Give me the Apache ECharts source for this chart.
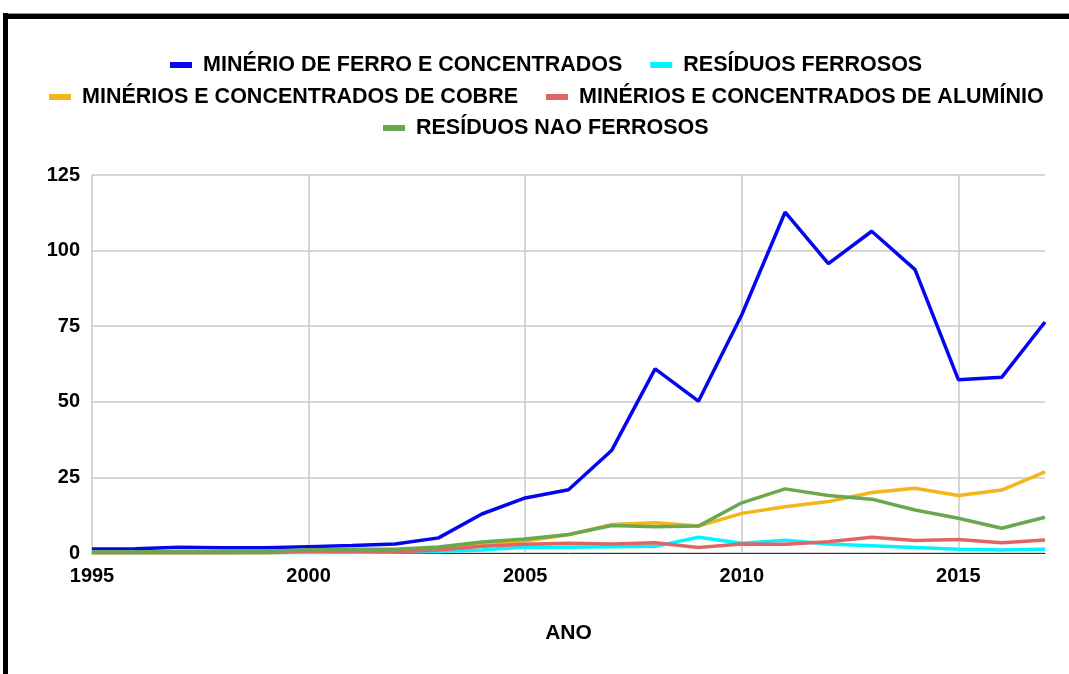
<!DOCTYPE html>
<html>
<head>
<meta charset="utf-8">
<script src="https://cdn.jsdelivr.net/npm/echarts@6/dist/echarts.min.js"></script>
<style>
  html, body { margin: 0; padding: 0; background: #fff; }
  #chart { position: absolute; left: 0; top: 0; width: 1069px; height: 674px; }
  #frameTop { position: absolute; left: 3px; top: 13px; width: 1066px; height: 6px; background: #000; border-top: 1px solid #999; box-sizing: border-box; }
  #frameLeft { position: absolute; left: 3px; top: 13px; width: 5px; height: 661px; background: #000; }
</style>
</head>
<body>
<div id="chart"></div>
<div id="frameTop"></div>
<div id="frameLeft"></div>
<script>
const years = ['1995','1996','1997','1998','1999','2000','2001','2002','2003','2004','2005','2006','2007','2008','2009','2010','2011','2012','2013','2014','2015','2016','2017'];

const seriesNames = [
  'MINÉRIO DE FERRO E CONCENTRADOS',
  'RESÍDUOS FERROSOS',
  'MINÉRIOS E CONCENTRADOS DE COBRE',
  'MINÉRIOS E CONCENTRADOS DE ALUMÍNIO',
  'RESÍDUOS NAO FERROSOS'
];

const minerioFerro = [1.3,1.4,1.9,1.7,1.7,2.1,2.5,3.0,5.0,12.9,18.2,20.9,34.0,60.9,50.2,78.8,112.7,95.7,106.4,93.7,57.3,58.1,76.4];
const residuosFerrosos = [0.1,0.1,0.1,0.1,0.1,0.2,0.2,0.3,0.5,1.0,2.0,1.9,2.1,2.2,5.2,3.2,4.2,3.0,2.4,1.8,1.2,1.0,1.2];
const cobre = [0.1,0.1,0.1,0.1,0.1,0.3,0.4,0.5,1.5,3.1,4.0,6.0,9.4,10.0,8.9,13.1,15.3,17.0,20.0,21.4,19.0,20.8,26.8];
const aluminio = [0.1,0.1,0.1,0.1,0.2,0.6,0.5,0.4,1.0,2.2,2.9,3.2,3.0,3.4,1.8,3.0,2.9,3.7,5.2,4.1,4.5,3.4,4.3];
const residuosNaoFerrosos = [0.4,0.4,0.4,0.5,0.6,1.1,1.2,1.2,2.0,3.6,4.6,6.1,9.1,8.7,8.9,16.6,21.2,19.0,17.8,14.2,11.5,8.2,11.8];

const yTicks = { min: 0, max: 125, interval: 25 };

const colors = ['#0505f0', '#00f5ff', '#f2b51a', '#e06666', '#6aa84f'];
const values = [minerioFerro, residuosFerrosos, cobre, aluminio, residuosNaoFerrosos];

const FONT = '"Liberation Sans", Arial, sans-serif';
const LEGEND_FS = 21.5;
const ITEM_W = 22, ITEM_GAP = 28, TEXT_PAD = 6, LEGEND_CENTER = 546;

const measureCtx = document.createElement('canvas').getContext('2d');
measureCtx.font = 'bold ' + LEGEND_FS + 'px ' + FONT;

function legendRow(names, top) {
  let w = 0;
  names.forEach((n, i) => {
    w += ITEM_W + 5 + TEXT_PAD + measureCtx.measureText(n).width;
    if (i > 0) w += ITEM_GAP;
  });
  return {
    data: names,
    top: top,
    left: Math.round(LEGEND_CENTER - w / 2),
    padding: 0,
    itemWidth: ITEM_W,
    itemHeight: 6,
    itemGap: ITEM_GAP,
    icon: 'rect',
    textStyle: { fontFamily: FONT, fontWeight: 'bold', fontSize: LEGEND_FS, color: '#000', padding: [0, 0, 0, TEXT_PAD] }
  };
}

const chart = echarts.init(document.getElementById('chart'), null, { renderer: 'canvas' });
chart.setOption({
  backgroundColor: '#fff',
  animation: false,
  color: colors,
  legend: [
    legendRow([seriesNames[0], seriesNames[1]], 54),
    legendRow([seriesNames[2], seriesNames[3]], 86),
    legendRow([seriesNames[4]], 117)
  ],
  grid: { left: 92, right: 24, top: 175, bottom: 121, containLabel: false },
  xAxis: {
    type: 'category',
    data: years,
    boundaryGap: false,
    name: 'ANO',
    nameLocation: 'middle',
    nameGap: 70,
    nameTextStyle: { fontFamily: FONT, fontWeight: 'bold', fontSize: 21, color: '#000' },
    axisLine: { show: true, lineStyle: { color: '#333', width: 1 } },
    axisTick: { show: false },
    axisLabel: { interval: 4, margin: 13, fontFamily: FONT, fontWeight: 'bold', fontSize: 20, color: '#000' },
    splitLine: { show: true, interval: 4, lineStyle: { color: '#c8c8c8', width: 1.5 } }
  },
  yAxis: {
    type: 'value',
    min: yTicks.min,
    max: yTicks.max,
    interval: yTicks.interval,
    axisLine: { show: false },
    axisTick: { show: false },
    axisLabel: { margin: 12, fontFamily: FONT, fontWeight: 'bold', fontSize: 20, color: '#000' },
    splitLine: { show: true, lineStyle: { color: '#c8c8c8', width: 1.5 } }
  },
  series: seriesNames.map((n, i) => ({
    name: n,
    type: 'line',
    data: values[i],
    showSymbol: false,
    symbol: 'none',
    lineStyle: { width: 3.5, color: colors[i] },
    itemStyle: { color: colors[i] },
    z: 2
  }))
});
</script>
</body>
</html>
